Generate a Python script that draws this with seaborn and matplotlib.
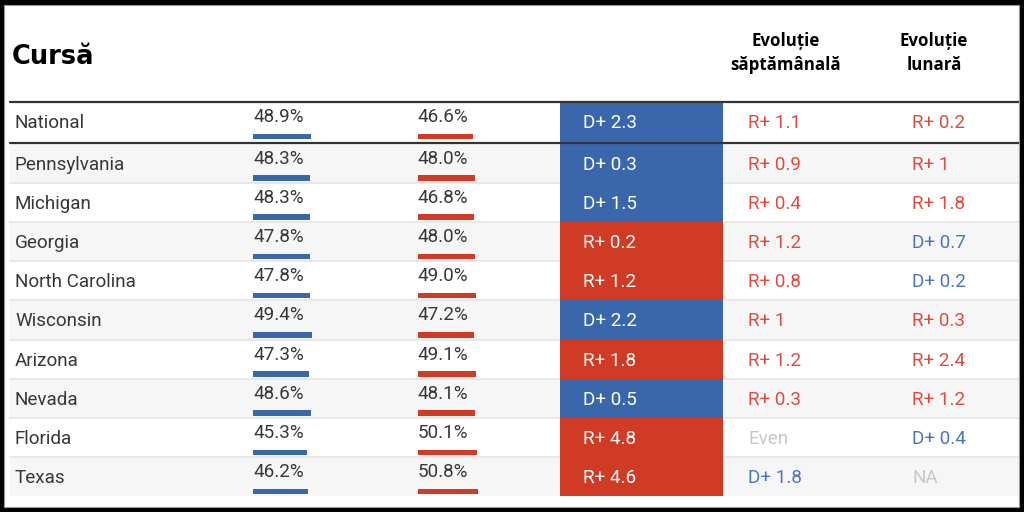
import matplotlib
matplotlib.use("Agg")
import matplotlib.pyplot as plt
from matplotlib.patches import Rectangle
import seaborn as sns
import numpy as np

# ---------------- data ----------------
races = ["National", "Pennsylvania", "Michigan", "Georgia", "North Carolina",
         "Wisconsin", "Arizona", "Nevada", "Florida", "Texas"]
dem_pct = [48.9, 48.3, 48.3, 47.8, 47.8, 49.4, 47.3, 48.6, 45.3, 46.2]
rep_pct = [46.6, 48.0, 46.8, 48.0, 49.0, 47.2, 49.1, 48.1, 50.1, 50.8]
# positive = shift toward R, negative = shift toward D, 0 = Even, None = NA
weekly_change = [1.1, 0.9, 0.4, 1.2, 0.8, 1.0, 1.2, 0.3, 0.0, -1.8]
monthly_change = [0.2, 1.0, 1.8, -0.7, -0.2, 0.3, 2.4, 1.2, -0.4, None]

title = "Cursă"
col_weekly = "Evoluție\nsăptămânală"
col_monthly = "Evoluție\nlunară"

# ---------------- style ----------------
sns.set_theme(style="white")
plt.rcParams["font.family"] = ["Roboto", "DejaVu Sans"]

BLUE = "#3a67ab"
RED = "#d03b26"
BLUE_TXT = "#4a76bd"
RED_TXT = "#e04c3c"
GRAY_TXT = "#c8c8c8"
DARK = "#383838"
ALT = "#f6f6f6"
SEP = "#e4e4e4"
TW = "normal"
FS = 13.6

W, H = 1024, 512
fig = plt.figure(figsize=(W / 100, H / 100), dpi=100)
fig.patch.set_facecolor("white")
ax = fig.add_axes([0, 0, 1, 1])
ax.set_xlim(0, W)
ax.set_ylim(H, 0)
ax.axis("off")

# row geometry (pixels)
n = len(races)
tops = [102.0] + [143.5 + (i - 1) * 39.2 for i in range(1, n)]
bots = [142.0] + [143.5 + i * 39.2 for i in range(1, n)]
x0, x1 = 10, 1019

# row backgrounds (alternate)
for i in range(n):
    if i >= 1 and i % 2 == 1:
        ax.add_patch(Rectangle((x0, tops[i]), x1 - x0, bots[i] - tops[i],
                               facecolor=ALT, edgecolor="none", zorder=0))
    if i >= 1 and i < n - 1:
        ax.plot([x0, x1], [bots[i], bots[i]], color=SEP, lw=1.2, zorder=1)

# margin cells
margins = [d - r for d, r in zip(dem_pct, rep_pct)]
for i, m in enumerate(margins):
    ax.add_patch(Rectangle((559.5, tops[i]), 163.5, bots[i] - tops[i],
                           facecolor=BLUE if m > 0 else RED,
                           edgecolor="none", zorder=2))
    lab = f"{'D' if m > 0 else 'R'}+ {abs(m):.1f}"
    ax.text(583, (tops[i] + bots[i]) / 2 + 1.5, lab, color="white",
            fontsize=FS, fontweight=TW, va="center", ha="left", zorder=3)

# header rules
ax.plot([x0, x1], [102, 102], color="#333333", lw=1.6, zorder=4)
ax.plot([x0, x1], [142.5, 142.5], color="#333333", lw=1.6, zorder=4)

# text columns
def fmt_change(v):
    if v is None:
        return "NA", GRAY_TXT
    if v == 0:
        return "Even", GRAY_TXT
    if v > 0:
        return f"R+ {abs(v):g}", RED_TXT
    return f"D+ {abs(v):g}", BLUE_TXT

for i in range(n):
    yc = (tops[i] + bots[i]) / 2
    ax.text(15, yc + 1.5, races[i], color=DARK, fontsize=FS, fontweight=TW,
            va="center", ha="left", zorder=3)
    ax.text(253, tops[i] + 15, f"{dem_pct[i]:.1f}%", color=DARK,
            fontsize=FS, fontweight=TW, va="center", ha="left", zorder=3)
    ax.text(418, tops[i] + 15, f"{rep_pct[i]:.1f}%", color=DARK,
            fontsize=FS, fontweight=TW, va="center", ha="left", zorder=3)
    t, c = fmt_change(weekly_change[i])
    ax.text(748, yc + 1.5, t, color=c, fontsize=FS, fontweight=TW,
            va="center", ha="left", zorder=3)
    t, c = fmt_change(monthly_change[i])
    ax.text(912, yc + 1.5, t, color=c, fontsize=FS, fontweight=TW,
            va="center", ha="left", zorder=3)

# headers
ax.text(12, 57, title, fontsize=18.5, fontweight="bold",
        family=["DejaVu Sans"], color="black", va="center", ha="left")
hdr_font = ["Open Sans", "DejaVu Sans"]
ax.text(786, 53, col_weekly, fontsize=12.2, fontweight="bold",
        family=hdr_font, color="black", va="center", ha="center",
        linespacing=1.5)
ax.text(934, 53, col_monthly, fontsize=12.2, fontweight="bold",
        family=hdr_font, color="black", va="center", ha="center",
        linespacing=1.5)

# bars under percentages, drawn with seaborn on dedicated axes
PX_PER_PCT = 58.0 / 48.9
bar_w_px = 80
bar_y = [t + 34.5 for t in tops]
for left, vals, col in [(253, dem_pct, BLUE), (418, rep_pct, RED)]:
    bax = fig.add_axes([left / W, 0, bar_w_px / W, 1])
    sns.barplot(x=vals, y=bar_y, orient="h", native_scale=True,
                color=col, saturation=1, width=5.5 / 39.2, ax=bax,
                linewidth=0)
    bax.set_xlim(0, bar_w_px / PX_PER_PCT)
    bax.set_ylim(H, 0)
    bax.axis("off")
    bax.patch.set_alpha(0)

# outer black frame
frame = fig.add_axes([0, 0, 1, 1])
frame.set_xlim(0, W)
frame.set_ylim(H, 0)
frame.axis("off")
frame.patch.set_alpha(0)
for (x, y, w, h) in [(0, 0, W, 5), (0, 0, 4, H), (1018.5, 0, 6, H), (0, 507, W, 5)]:
    frame.add_patch(Rectangle((x, y), w, h, facecolor="black", edgecolor="none"))
frame.add_patch(Rectangle((4, 5), 1014.5, 502, facecolor="none",
                          edgecolor="#9a9a9a", lw=0.8))

fig.savefig("out.png", dpi=100, facecolor="white")
